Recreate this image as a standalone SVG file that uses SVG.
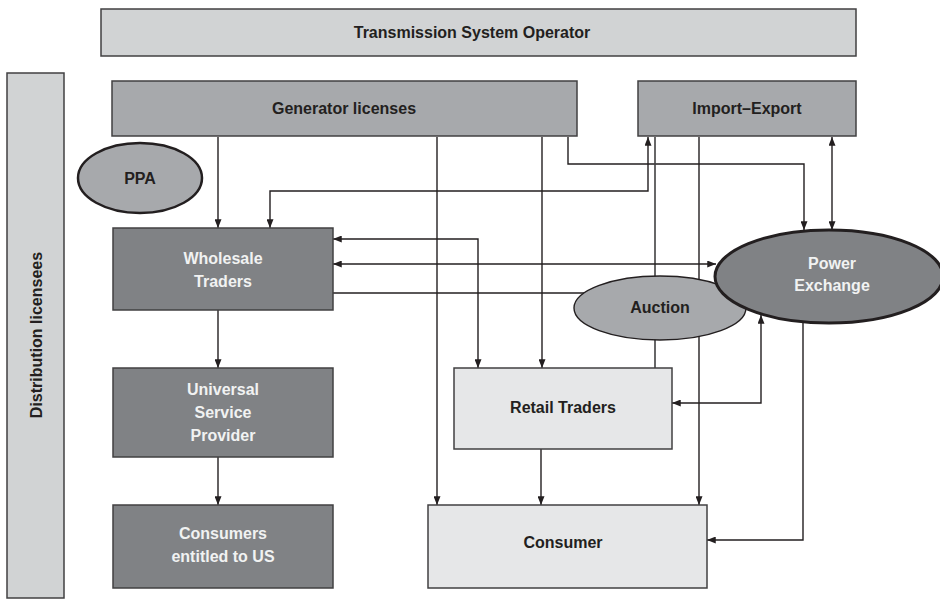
<svg xmlns="http://www.w3.org/2000/svg" width="940" height="599" viewBox="0 0 940 599">
<defs>
<marker id="arr" viewBox="0 0 10 8" refX="10" refY="4" markerWidth="10" markerHeight="7" markerUnits="userSpaceOnUse" orient="auto-start-reverse">
<path d="M0,0 L10,4 L0,8 z" fill="#231f20"/>
</marker>
<style>
.c{fill:none;stroke:#231f20;stroke-width:1.4}
.a{marker-end:url(#arr)}
.b{marker-start:url(#arr);marker-end:url(#arr)}
.box{stroke:#414042;stroke-width:1.5}
.lt{fill:#d1d3d4}
.md{fill:#a7a9ac}
.dk{fill:#808285}
.wh{fill:#e6e7e8}
text{font-family:"Liberation Sans",Arial,sans-serif;font-weight:bold;font-size:16px;text-anchor:middle}
.td{fill:#231f20}
.tw{fill:#f1f2f2}
</style>
</defs>
<g id="connectors">
<path class="c a" d="M218,137 V228"/>
<path class="c a" d="M437,137 V505"/>
<path class="c a" d="M542,137 V368"/>
<path class="c a" d="M568,137 V164 H804 V230"/>
<path class="c b" d="M270,228 V191 H648 V137"/>
<path class="c" style="stroke:#414042;stroke-width:1.6" d="M655,137 V368"/>
<path class="c a" d="M699,137 V505"/>
<path class="c b" d="M832,137 V230"/>
<path class="c b" d="M333,239 H478 V368"/>
<path class="c b" d="M333,264 H716"/>
<path class="c" d="M333,293 H600"/>
<path class="c b" d="M672,403 H761 V315"/>
<path class="c a" d="M803,323 V540 H707"/>
<path class="c a" d="M541,449 V505"/>
<path class="c a" d="M218,310 V368"/>
<path class="c a" d="M218,457 V505"/>
</g>
<g id="tso">
<rect class="box lt" x="101" y="9" width="755" height="47"/>
<text class="td" x="472" y="38">Transmission System Operator</text>
</g>
<g id="distribution">
<rect class="box lt" x="7" y="73" width="57" height="525"/>
<text class="td" transform="translate(42,335) rotate(-90)">Distribution licensees</text>
</g>
<g id="generator">
<rect class="box md" x="112" y="81" width="465" height="55"/>
<text class="td" x="344" y="114">Generator licenses</text>
</g>
<g id="importexport">
<rect class="box md" x="638" y="81" width="218" height="55"/>
<text class="td" x="747" y="114">Import–Export</text>
</g>
<g id="ppa">
<ellipse cx="140" cy="178" rx="62" ry="35" fill="#a7a9ac" stroke="#231f20" stroke-width="2.5"/>
<text class="td" x="140" y="184">PPA</text>
</g>
<g id="wholesale">
<rect class="box dk" x="113" y="228" width="220" height="82"/>
<text class="tw" x="223" y="264">Wholesale</text>
<text class="tw" x="223" y="287">Traders</text>
</g>
<g id="usp">
<rect class="box dk" x="113" y="368" width="220" height="89"/>
<text class="tw" x="223" y="395">Universal</text>
<text class="tw" x="223" y="418">Service</text>
<text class="tw" x="223" y="441">Provider</text>
</g>
<g id="consumersus">
<rect class="box dk" x="113" y="505" width="220" height="83"/>
<text class="tw" x="223" y="539">Consumers</text>
<text class="tw" x="223" y="562">entitled to US</text>
</g>
<g id="retail">
<rect class="box wh" x="454" y="368" width="218" height="81"/>
<text class="td" x="563" y="413">Retail Traders</text>
</g>
<g id="consumer">
<rect class="box wh" x="428" y="505" width="279" height="83"/>
<text class="td" x="563" y="548">Consumer</text>
</g>
<g id="auction">
<ellipse cx="660" cy="308" rx="86" ry="32" fill="#a7a9ac" stroke="#231f20" stroke-width="1.4"/>
<text class="td" x="660" y="313">Auction</text>
</g>
<g id="powerexchange">
<ellipse cx="829" cy="276.5" rx="114" ry="46.5" fill="#808285" stroke="#231f20" stroke-width="3"/>
<text class="tw" x="832" y="269">Power</text>
<text class="tw" x="832" y="291">Exchange</text>
</g>
</svg>
